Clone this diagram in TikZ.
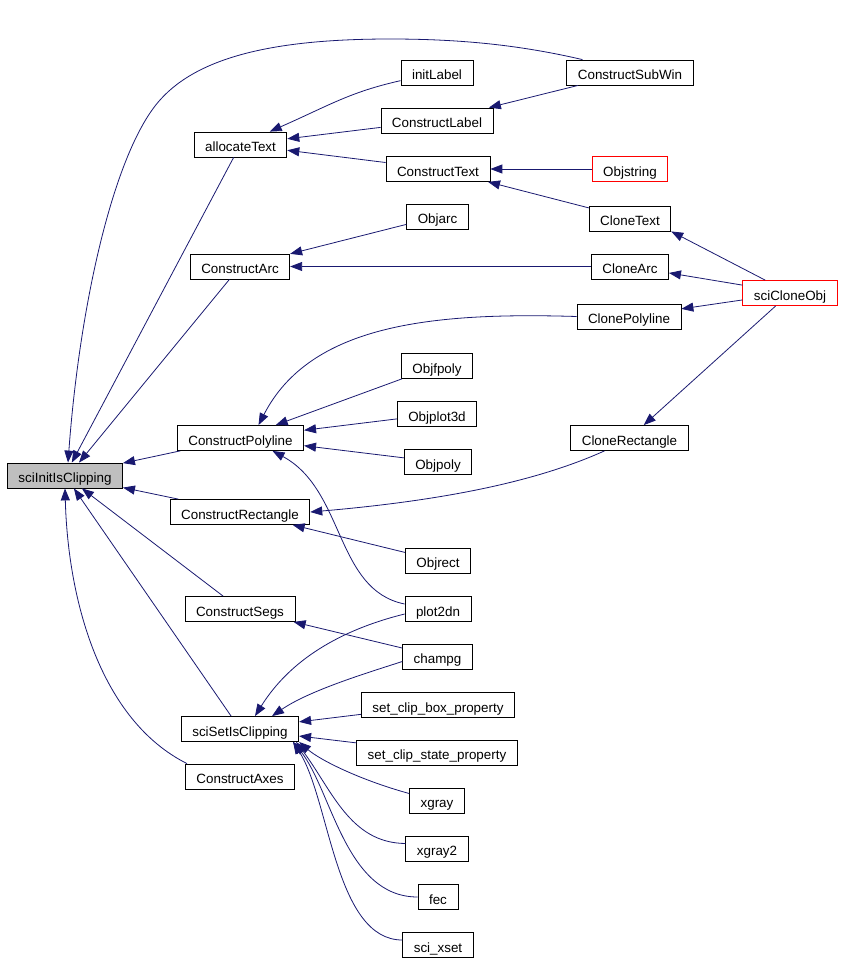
\documentclass[tikz,border=0pt]{standalone}
\usepackage{fontspec}
\setmainfont{Liberation Sans}
\usetikzlibrary{arrows.meta}
\definecolor{edgeblue}{HTML}{191970}

\begin{document}
\begin{tikzpicture}[x=1pt,y=-1pt,
            box/.style={rectangle,draw,line width=0.8pt,minimum height=25pt,inner xsep=11pt,inner ysep=0pt,
                        text height=14pt,text depth=0pt,font=\fontsize{13.4}{16}\selectfont},
            call/.style={edgeblue,line width=0.8pt,arrows = -{Triangle[length=12pt,width=9pt]}}]

            %\draw [help lines,step=50] (0,0) grid (842,961);
            \useasboundingbox (0,0) rectangle (842,961);

            \path   (65,475.5) node (init) [box,fill=gray!50] {sciInitIsClipping}
                    (240.5,144.5) node (alloc) [box] {allocateText}
                    (437,72.5) node (initlabel) [box] {initLabel}
                    (630,72.5) node (subwin) [box] {ConstructSubWin}
                    (437,120.5) node (label) [box] {ConstructLabel}
                    (438,169) node (text) [box] {ConstructText}
                    (630,169) node (objstring) [box,draw=red] {Objstring}
                    (630,218.5) node (clonetext) [box] {CloneText}
                    (437.5,216.5) node (objarc) [box] {Objarc}
                    (240,266.5) node (arc) [box] {ConstructArc}
                    (630,266.5) node (clonearc) [box] {CloneArc}
                    (790,293) node (cloneobj) [box,draw=red] {sciCloneObj}
                    (629,316.5) node (clonepoly) [box] {ClonePolyline}
                    (437,366) node (objfpoly) [box] {Objfpoly}
                    (437,414) node (objplot3d) [box] {Objplot3d}
                    (240.5,438) node (poly) [box] {ConstructPolyline}
                    (629.5,438) node (clonerect) [box] {CloneRectangle}
                    (438,462) node (objpoly) [box] {Objpoly}
                    (240,512) node (rect) [box] {ConstructRectangle}
                    (438,560.5) node (objrect) [box] {Objrect}
                    (240,609) node (segs) [box] {ConstructSegs}
                    (438,609) node (plot2dn) [box] {plot2dn}
                    (437.5,656.5) node (champg) [box] {champg}
                    (438,705) node (clipbox) [box] {set\_clip\_box\_property}
                    (240,729) node (setclip) [box] {sciSetIsClipping}
                    (437,752.5) node (clipstate) [box] {set\_clip\_state\_property}
                    (240,776.5) node (axes) [box] {ConstructAxes}
                    (437,800.5) node (xgray) [box] {xgray}
                    (437,848.5) node (xgray2) [box] {xgray2}
                    (438,897) node (fec) [box] {fec}
                    (438,945) node (xset) [box] {sci\_xset};

            \draw[call] ([xshift=16pt]node cs:name=subwin,anchor=north west) .. controls (520,45) and (460,39) .. (390,39)
                        .. controls (280,39) and (200,55) .. (160,100) .. controls (115,150) and (80,300) .. ([xshift=3pt]node cs:name=init,anchor=north);
            \draw[call] (node cs:name=alloc) -- (node cs:name=init);
            \draw[call] (node cs:name=arc) -- ([xshift=14pt]node cs:name=init,anchor=north);
            \draw[call] (node cs:name=poly) -- (node cs:name=init);
            \draw[call] (node cs:name=rect) -- (node cs:name=init);
            \draw[call] (node cs:name=segs) -- (node cs:name=init);
            \draw[call] (node cs:name=setclip) -- (node cs:name=init);
            \draw[call] ([xshift=2pt]node cs:name=axes,anchor=north west) .. controls (100,720) and (68,600) .. (node cs:name=init,anchor=south);
            \draw[call] (node cs:name=initlabel) .. controls (350,92) and (330,105) .. (node cs:name=alloc);
            \draw[call] (node cs:name=label) -- (node cs:name=alloc);
            \draw[call] (node cs:name=text) -- (node cs:name=alloc);
            \draw[call] (node cs:name=subwin) -- (node cs:name=label);
            \draw[call] (node cs:name=objstring) -- (node cs:name=text);
            \draw[call] (node cs:name=clonetext) -- (node cs:name=text);
            \draw[call] (node cs:name=cloneobj) -- (node cs:name=clonetext,anchor=south east);
            \draw[call] (node cs:name=cloneobj) -- (node cs:name=clonearc);
            \draw[call] (node cs:name=cloneobj) -- (node cs:name=clonepoly);
            \draw[call] (node cs:name=cloneobj) -- (node cs:name=clonerect);
            \draw[call] (node cs:name=objarc) -- (node cs:name=arc);
            \draw[call] (node cs:name=clonearc) -- (node cs:name=arc);
            \draw[call] (node cs:name=clonepoly,anchor=west) .. controls (430,312) and (310,325) .. ([xshift=18pt]node cs:name=poly,anchor=north);
            \draw[call] (node cs:name=objfpoly) -- (node cs:name=poly);
            \draw[call] (node cs:name=objplot3d) -- (node cs:name=poly);
            \draw[call] (node cs:name=objpoly) -- (node cs:name=poly);
            \draw[call] ([yshift=5pt]node cs:name=plot2dn,anchor=west) .. controls (335,590) and (345,490) .. ([xshift=32pt]node cs:name=poly,anchor=south);
            \draw[call] ([xshift=34pt]node cs:name=clonerect,anchor=south west) .. controls (540,480) and (450,500) .. (node cs:name=rect,anchor=east);
            \draw[call] (node cs:name=objrect) -- (node cs:name=rect);
            \draw[call] (node cs:name=champg) -- (node cs:name=segs);
            \draw[call] ([yshift=-5pt]node cs:name=plot2dn,anchor=west) .. controls (340,630) and (290,660) .. ([xshift=15pt]node cs:name=setclip,anchor=north);
            \draw[call] ([yshift=-5pt]node cs:name=champg,anchor=west) .. controls (370,672) and (310,690) .. ([xshift=32pt]node cs:name=setclip,anchor=north);
            \draw[call] (node cs:name=clipbox) -- (node cs:name=setclip);
            \draw[call] (node cs:name=clipstate) -- (node cs:name=setclip);
            \draw[call] ([yshift=7pt]node cs:name=xgray,anchor=west) .. controls (360,780) and (320,760) .. (node cs:name=setclip,anchor=south east);
            \draw[call] ([yshift=5pt]node cs:name=xgray2,anchor=west) .. controls (350,843) and (332,790) .. ([xshift=-3pt]node cs:name=setclip,anchor=south east);
            \draw[call] (node cs:name=fec,anchor=west) .. controls (345,897) and (332,790) .. ([xshift=-6pt]node cs:name=setclip,anchor=south east);
            \draw[call] ([yshift=5pt]node cs:name=xset,anchor=west) .. controls (335,940) and (330,800) .. ([xshift=-6pt]node cs:name=setclip,anchor=south east);

        \end{tikzpicture}
\end{document}
